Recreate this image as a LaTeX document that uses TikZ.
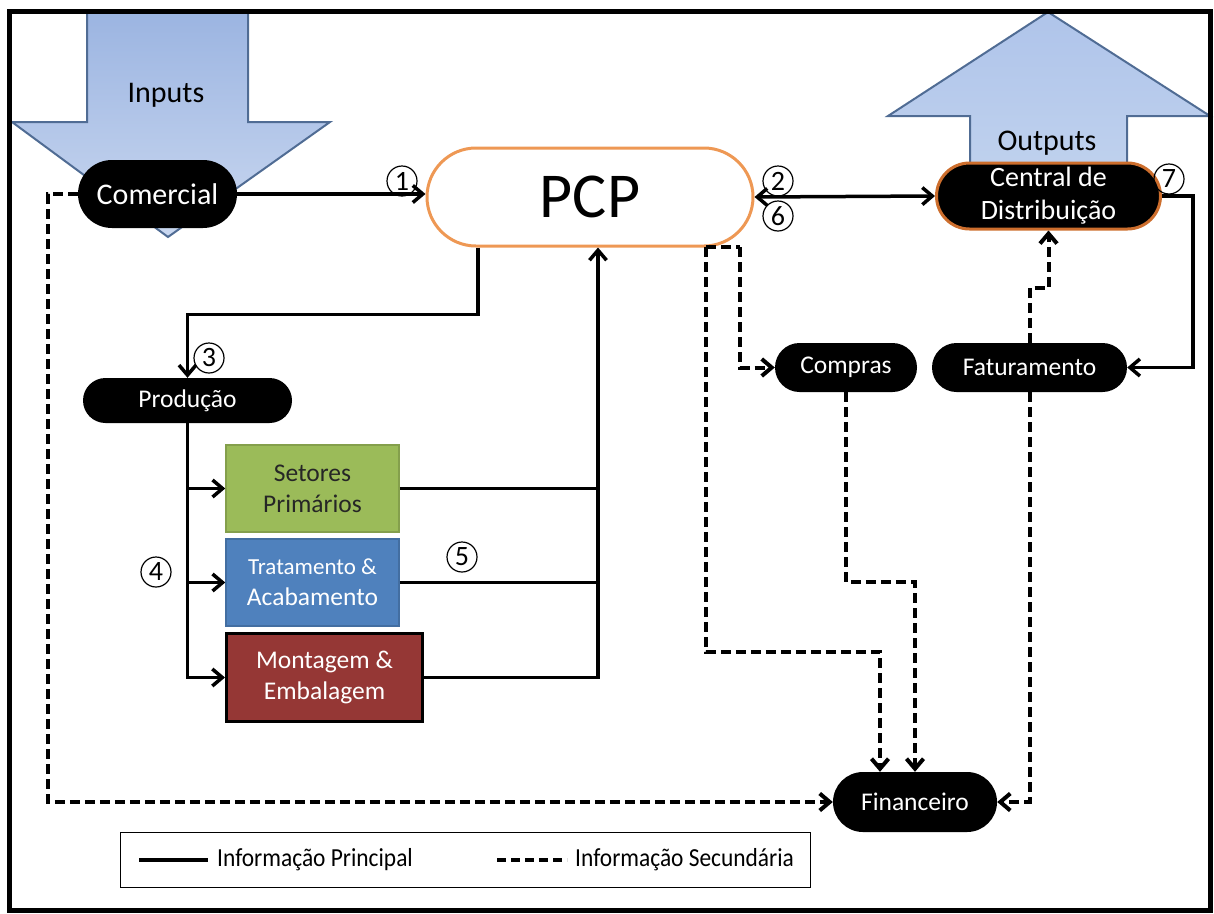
\documentclass[tikz,border=0pt]{standalone}
\usepackage{fontspec}
\setmainfont{Carlito}
\usetikzlibrary{arrows.meta, shapes.misc}

\definecolor{pcporange}{RGB}{238,152,84}
\definecolor{cdorange}{RGB}{205,110,45}
\definecolor{setorgreen}{RGB}{155,187,89}
\definecolor{setorblue}{RGB}{79,129,189}
\definecolor{setorred}{RGB}{149,55,53}
\definecolor{setaborda}{RGB}{80,108,148}

\begin{document}
\begin{tikzpicture}[x=1pt, y=-1pt, >={Straight Barb[length=10pt,width=17pt]},
  pill/.style={rounded rectangle, fill=black, text=white, inner sep=0pt, font=\fontsize{25.5}{31}\selectfont},
  setor/.style={minimum width=173pt, minimum height=87pt, align=center, inner sep=0pt, line width=1.5pt, font=\fontsize{25.5}{31}\selectfont},
  num/.style={draw, circle, line width=1.2pt, minimum size=30pt, inner sep=0pt, font=\fontsize{28}{28}\selectfont},
  mainline/.style={line width=3.5pt},
  secline/.style={line width=4pt, dash pattern=on 10pt off 5pt},
  bigarrow/.style={draw=setaborda, line width=2pt}]
  \useasboundingbox (0,0) rectangle (1214,913);

  % setas grandes
  \draw[bigarrow, top color={rgb,255:red,155;green,180;blue,225}, bottom color={rgb,255:red,202;green,216;blue,240}]
    (87,10) -- (248,10) -- (248,122) -- (330,122) -- (168,237) -- (12,122) -- (87,122) -- cycle;
  \node[font=\fontsize{30}{30}\selectfont] (inputs) at (166,95) {Inputs};
  \draw[bigarrow, top color={rgb,255:red,175;green,196;blue,234}, bottom color={rgb,255:red,192;green,210;blue,238}]
    (970,180) -- (970,116) -- (888,116) -- (1048,12) -- (1210,116) -- (1127,116) -- (1127,180) -- cycle;
  \node[font=\fontsize{30}{30}\selectfont] (outputs) at (1047,143) {Outputs};

  % setores
  \node[pill, minimum width=159pt, minimum height=68pt, font=\fontsize{30}{36}\selectfont] (comercial) at (157.5,194) {Comercial};
  \node[pill, draw=pcporange, fill=white, text=black, line width=3pt, minimum width=326pt, minimum height=98pt,
    font=\fontsize{64}{70}\selectfont] (pcp) at (590,197) {PCP};
  \node[pill, draw=cdorange, line width=3pt, minimum width=224pt, minimum height=66pt, align=center,
    font=\fontsize{28}{33}\selectfont] (central) at (1048.5,196) {Central de\\Distribuição};
  \node[pill, minimum width=142pt, minimum height=49pt] (compras) at (846,367.5) {Compras};
  \node[pill, minimum width=195pt, minimum height=49pt] (faturamento) at (1029.5,367.5) {Faturamento};
  \node[pill, minimum width=209pt, minimum height=45pt] (producao) at (187.5,400.5) {Produção};
  \node[pill, minimum width=164pt, minimum height=60pt] (financeiro) at (915,802) {Financeiro};
  \node[setor, fill=setorgreen, draw=setorgreen!85!black, text=black!85] (setores) at (312.5,488.5) {Setores\\Primários};
  \node[setor, fill=setorblue, draw=setorblue!85!black, text=white] (tratamento) at (312.5,582.5)
    {\fontsize{23}{31}\selectfont Tratamento \&\\\fontsize{25.5}{31}\selectfont Acabamento};
  \node[setor, fill=setorred, draw=black, line width=3pt, minimum width=196pt, minimum height=88pt, text=white]
    (montagem) at (324.5,677.5) {Montagem \&\\Embalagem};

  % numeros
  \node[num] (n1) at (402,181) {1};
  \node[num] (n2) at (778,181) {2};
  \node[num] (n6) at (778,216) {6};
  \node[num] (n7) at (1169,179) {7};
  \node[num] (n3) at (209,358) {3};
  \node[num] (n4) at (156,572) {4};
  \node[num] (n5) at (462,557) {5};

  % informacao principal
  \draw[mainline,->] (comercial.east) -- (pcp.west |- comercial.east);
  \draw[mainline,<->] (pcp.east) -- (central.west);
  \draw[mainline,->] (central.east) -- ++(31,0) |- (faturamento.east);
  \draw[mainline,->] ([xshift=-112pt]pcp.south) -- ++(0,67) -| (producao.north);
  \draw[mainline,->] (producao.south) |- (montagem.west);
  \draw[mainline,->] (producao.south |- setores.west) -- (setores.west);
  \draw[mainline,->] (producao.south |- tratamento.west) -- (tratamento.west);
  \coordinate (retorno) at (598,683);
  \draw[mainline,->] (montagem.east) -| (retorno |- pcp.south);
  \draw[mainline] (setores.east) -- (setores.east -| retorno);
  \draw[mainline] (tratamento.east) -- (tratamento.east -| retorno);

  % informacao secundaria
  \coordinate (d1) at (706,247);
  \coordinate (d2) at (740,247);
  \draw[secline] (d1) -- (d2);
  \draw[secline,->] (d2) |- (compras.west);
  \draw[secline,->] (d1) -- ++(0,405) -| ([xshift=-35pt]financeiro.north);
  \draw[secline,->] (compras.south) -- ++(0,190) -| (financeiro.north);
  \draw[secline,->] (faturamento.north) -- ++(0,-55) -| (central.south);
  \draw[secline,->] (faturamento.south) |- (financeiro.east);
  \draw[secline,->] (comercial.west) -- ++(-30,0) |- (financeiro.west);

  % legenda
  \node[draw, line width=1pt, minimum width=690pt, minimum height=55pt] (legenda) at (465,859.5) {};
  \draw[mainline] (139,860) -- (208,860);
  \draw[secline, dash pattern=on 9pt off 5pt] (497,860) -- (567,860);
  \node[anchor=west, inner sep=0pt, font=\fontsize{26}{26}\selectfont] (lprincipal) at (217,860)
    {\scalebox{0.9}[1]{Informação Principal}};
  \node[anchor=west, inner sep=0pt, font=\fontsize{26}{26}\selectfont] (lsecundaria) at (575,860)
    {\scalebox{0.9}[1]{Informação Secundária}};

  % moldura
  \draw[line width=5pt] (9.5,11) rectangle (1210,910);
\end{tikzpicture}
\end{document}
